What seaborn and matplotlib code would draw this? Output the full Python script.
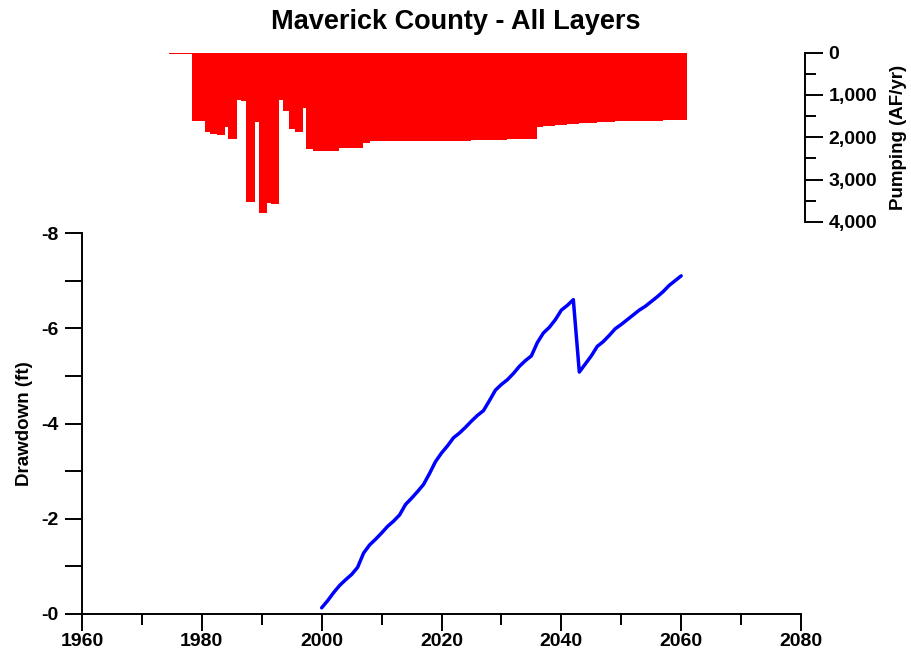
import numpy as np
import pandas as pd
import matplotlib
matplotlib.use("Agg")
import matplotlib.pyplot as plt
from matplotlib.ticker import MultipleLocator, FuncFormatter
import seaborn as sns

# Annual county pumping (AF/yr), stepwise over stress periods: start year, end year, rate
pump_start = [1974.6, 1976.9, 1978.4, 1980.5, 1981.4, 1982.6, 1983.8, 1984.4,
              1985.9, 1986.6, 1987.4, 1988.9, 1989.5, 1990.8, 1991.5, 1992.9,
              1993.6, 1994.5, 1995.5, 1996.9, 1997.4, 1998.6, 2002.9, 2006.9]
pump_end = pump_start[1:] + [2008.0]
pump_rate = [40, 30, 1615, 1880, 1925, 1955, 1750, 2040,
             1120, 1150, 3520, 1630, 3795, 3545, 3580, 1120,
             1380, 1810, 1880, 1315, 2275, 2325, 2260, 2125]

# Projected pumping, one value per year 2008-2060
proj_years = list(range(2008, 2061))
proj_rate = [2100, 2098, 2096, 2095, 2093, 2092, 2090, 2088, 2087, 2085,
             2084, 2082, 2081, 2080, 2079, 2078, 2077, 2076, 2062, 2060,
             2058, 2056, 2054, 2052, 2048, 2045, 2042, 2040, 1750, 1740,
             1730, 1720, 1705, 1690, 1678, 1670, 1662, 1655, 1645, 1638,
             1632, 1628, 1625, 1622, 1619, 1616, 1613, 1610, 1606, 1602,
             1598, 1594, 1590]

# Simulated drawdown (ft), annual values 2000-2060
dd_years = list(range(2000, 2061))
drawdown = [0.13, 0.28, 0.45, 0.60, 0.72, 0.83, 0.98, 1.28, 1.45, 1.57,
            1.70, 1.84, 1.95, 2.08, 2.30, 2.43, 2.57, 2.72, 2.95, 3.20,
            3.38, 3.53, 3.70, 3.80, 3.92, 4.05, 4.17, 4.27, 4.48, 4.70,
            4.82, 4.92, 5.05, 5.20, 5.32, 5.42, 5.70, 5.90, 6.02, 6.18,
            6.38, 6.48, 6.60, 5.08, 5.25, 5.42, 5.62, 5.72, 5.85, 5.99,
            6.08, 6.18, 6.28, 6.38, 6.46, 6.56, 6.66, 6.77, 6.90, 7.00,
            7.10]

x_ticks = [1960, 1980, 2000, 2020, 2040, 2060, 2080]
dd_ticks = [0, -2, -4, -6, -8]
dd_tick_labels = ["-0", "-2", "-4", "-6", "-8"]
pump_ticks = [0, 1000, 2000, 3000, 4000]

sns.set_theme(style="ticks")
plt.rcParams["font.family"] = ["Liberation Sans", "DejaVu Sans"]
plt.rcParams["font.weight"] = "bold"
plt.rcParams["axes.labelweight"] = "bold"
plt.rcParams["text.color"] = "black"
plt.rcParams["axes.labelcolor"] = "black"

W, H = 912, 667
fig = plt.figure(figsize=(W / 100, H / 100), dpi=100)
fig.patch.set_facecolor("white")

px_per_year = (801 - 82) / 120.0
TICK_FS = 14
LABEL_FS = 13.5

# ---- drawdown panel ----
ax = fig.add_axes([82 / W, 1 - 614 / H, (801 - 82) / W, (614 - 233) / H])
dd = pd.DataFrame({"year": dd_years, "dd": [-v for v in drawdown]})
sns.lineplot(data=dd, x="year", y="dd", ax=ax, color="#0000ff", linewidth=2.5)
ax.set_xlim(1960, 2080)
ax.set_ylim(0, -8)
ax.set_xticks(x_ticks)
ax.xaxis.set_minor_locator(MultipleLocator(10))
ax.set_yticks(dd_ticks)
ax.set_yticklabels(dd_tick_labels)
ax.yaxis.set_minor_locator(MultipleLocator(1))
ax.set_xlabel("")
ax.set_ylabel("Drawdown (ft)", fontsize=LABEL_FS, fontweight="bold", labelpad=6,
              color="black")
sns.despine(ax=ax)
for s in ("left", "bottom"):
    ax.spines[s].set_linewidth(1.4)
    ax.spines[s].set_color("black")
ax.tick_params(axis="both", which="major", direction="out", length=12, width=1.4,
               labelsize=TICK_FS, colors="black", pad=2)
ax.tick_params(axis="both", which="minor", direction="out", length=8, width=1.4,
               colors="black")
ax.tick_params(axis="y", which="major", pad=5)
ax.tick_params(axis="y", which="minor", length=12)
for lab in ax.get_xticklabels() + ax.get_yticklabels():
    lab.set_fontweight("bold")
ax.set_facecolor("white")

# ---- pumping panel ----
axp = fig.add_axes([82 / W, 1 - 222 / H, (805 - 82) / W, (222 - 52.5) / H])
left = pump_start + proj_years
width = [e - s for s, e in zip(pump_start, pump_end)] + [1.0] * len(proj_years)
rate = pump_rate + proj_rate
axp.bar(left, rate, width=width, align="edge", color="#ff0000", linewidth=0)
axp.set_xlim(1960, 1960 + (805 - 82) / px_per_year)
axp.set_ylim(4000, 0)
axp.set_facecolor("none")
for s in ("left", "top", "bottom"):
    axp.spines[s].set_visible(False)
axp.spines["right"].set_visible(True)
axp.spines["right"].set_linewidth(1.4)
axp.spines["right"].set_color("black")
axp.set_xticks([])
axp.yaxis.tick_right()
axp.yaxis.set_label_position("right")
axp.set_yticks(pump_ticks)
axp.yaxis.set_minor_locator(MultipleLocator(500))
axp.yaxis.set_major_formatter(FuncFormatter(lambda v, p: f"{int(v):,}"))
axp.tick_params(axis="y", which="major", direction="out", length=13, width=1.4,
                labelsize=TICK_FS, colors="black", pad=4)
axp.tick_params(axis="y", which="minor", direction="out", length=8, width=1.4,
                colors="black")
for lab in axp.get_yticklabels():
    lab.set_fontweight("bold")
axp.set_ylabel("Pumping (AF/yr)", fontsize=LABEL_FS, fontweight="bold", labelpad=9,
               color="black")

fig.text(0.5, 1 - 22 / H, "Maverick County - All Layers", ha="center", va="center",
         fontsize=19.5, fontweight="bold", color="black")

fig.savefig("out.png", dpi=100, facecolor="white")
